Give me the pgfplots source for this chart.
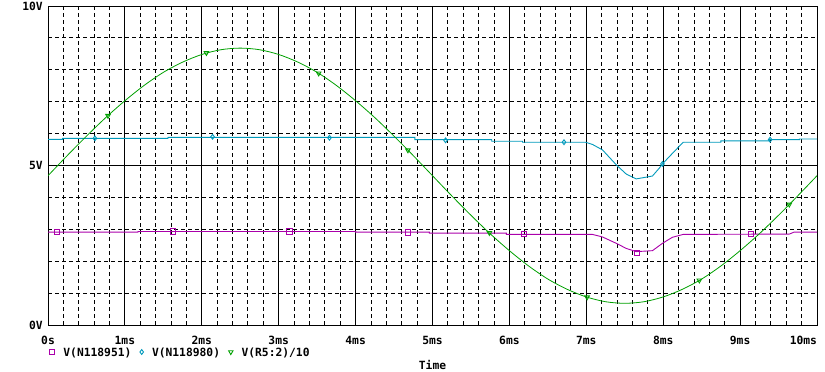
\documentclass[border=0pt]{standalone}
\usepackage{fontspec}
\setmainfont{DejaVu Sans Mono}[BoldFont={DejaVu Sans Mono Bold}]
\usepackage{pgfplots}
\pgfplotsset{compat=1.18}
\definecolor{mag}{RGB}{170,0,170}
\definecolor{cya}{RGB}{0,153,187}
\definecolor{grn}{RGB}{0,160,0}
\newcommand\pf{\fontsize{11.3bp}{13bp}\selectfont\bfseries}
\begin{document}
\begin{tikzpicture}
\useasboundingbox (0,0) rectangle (825bp,372bp);
\begin{axis}[
  at={(48bp,47bp)}, anchor=south west,
  scale only axis, width=769bp, height=319bp,
  xmin=0, xmax=10, ymin=0, ymax=10,
  xtick={0,1,2,3,4,5,6,7,8,9,10},
  xticklabels={0s,1ms,2ms,3ms,4ms,5ms,6ms,7ms,8ms,9ms,\llap{10ms}},
  ytick={0,5,10}, yticklabels={0V,5V,10V},
  minor xtick={0.2,0.4,0.6,0.8,1.2,1.4,1.6,1.8,2.2,2.4,2.6,2.8,3.2,3.4,3.6,3.8,4.2,4.4,4.6,4.8,5.2,5.4,5.6,5.8,6.2,6.4,6.6,6.8,7.2,7.4,7.6,7.8,8.2,8.4,8.6,8.8,9.2,9.4,9.6,9.8},
  minor ytick={1,2,3,4,6,7,8,9},
  grid=both,
  major grid style={black, line width=0.9bp, solid},
  minor grid style={black, line width=0.9bp, dash pattern=on 4bp off 3bp},
  major tick length=0pt, minor tick length=0pt,
  axis line style={black, line width=0.9bp},
  tick label style={font=\pf, inner sep=0pt},
  xticklabel style={anchor=center, yshift=-15bp},
  yticklabel style={anchor=east, xshift=-5bp},
  xlabel={Time},
  xlabel style={at={(axis description cs:0.5,0)}, anchor=center, yshift=-40bp, font=\pf, inner sep=0pt},
  legend columns=3,
  legend style={at={(axis description cs:0,0)}, anchor=west, xshift=1.5bp, yshift=-27bp,
    draw=none, fill=none, inner sep=0pt, font=\pf,
    nodes={inner sep=0pt, text depth=0pt},
    /tikz/every odd column/.style={column sep=8.5bp},
    /tikz/every even column/.style={column sep=8.5bp}},
  legend image code/.code={\draw[#1] plot coordinates {(0bp,0bp)};},
]
% V(N118951)
\addplot[mag, line width=0.9bp, forget plot] coordinates {
(0,2.91) (1.17,2.91) (1.17,2.93) (4.0,2.93) (4.0,2.91) (4.96,2.91) (4.96,2.88) (5.96,2.88) (5.96,2.84)
(7.08,2.84) (7.21,2.76) (7.39,2.56) (7.52,2.40) (7.65,2.30) (7.86,2.33) (7.99,2.56) (8.12,2.75) (8.26,2.84)
(9.64,2.85) (9.70,2.91) (10,2.91)};
\addplot[mag, only marks, mark=square, mark size=2.6bp, line width=0.9bp] coordinates {
(0.12,2.91) (1.62,2.93) (3.14,2.93) (4.68,2.90) (6.19,2.86) (7.66,2.27) (9.14,2.85)};
\addlegendentry{V(N118951)}
% V(N118980)
\addplot[cya, line width=0.9bp, forget plot] coordinates {
(0,5.82) (0.19,5.82) (0.19,5.85) (1.56,5.85) (1.56,5.88) (4.77,5.88) (4.77,5.81) (5.77,5.81) (5.77,5.76)
(6.17,5.76) (6.17,5.73) (6.99,5.73) (7.08,5.66) (7.21,5.49) (7.39,5.02) (7.52,4.73) (7.65,4.58) (7.86,4.67)
(7.95,4.92) (7.99,5.05) (8.12,5.38) (8.26,5.73) (8.75,5.73) (8.75,5.77) (9.38,5.77) (9.38,5.81) (9.77,5.81)
(9.77,5.83) (10,5.83)};
\addplot[cya, only marks, mark=diamond, mark size=2.4bp, line width=0.9bp] coordinates {
(0.61,5.85) (2.14,5.90) (3.66,5.87) (5.17,5.79) (6.71,5.73) (7.99,5.05) (9.39,5.81)};
\addlegendentry{V(N118980)}
% V(R5:2)/10
\addplot[grn, line width=0.8bp, smooth, forget plot] coordinates {
(0,4.68) (0.25,5.31) (0.5,5.92) (0.75,6.50) (1,7.03) (1.25,7.51) (1.5,7.92) (1.75,8.24) (2,8.48) (2.25,8.63)
(2.5,8.68) (2.75,8.63) (3,8.48) (3.25,8.24) (3.5,7.92) (3.75,7.51) (4,7.03) (4.25,6.50) (4.5,5.92) (4.75,5.31)
(5,4.68) (5.25,4.05) (5.5,3.44) (5.75,2.86) (6,2.33) (6.25,1.85) (6.5,1.44) (6.75,1.12) (7,0.88) (7.25,0.73)
(7.5,0.68) (7.75,0.73) (8,0.88) (8.25,1.12) (8.5,1.44) (8.75,1.85) (9,2.33) (9.25,2.86) (9.5,3.44) (9.75,4.05)
(10,4.68)};
\addplot[grn, only marks, mark=triangle, mark options={rotate=180}, mark size=2.6bp, line width=0.9bp] coordinates {
(0.78,6.56) (2.06,8.53) (3.52,7.89) (4.68,5.48) (5.74,2.89) (7.01,0.87) (8.47,1.40) (9.64,3.78)};
\addlegendentry{V(R5:2)/10}
\end{axis}
\end{tikzpicture}
\end{document}
